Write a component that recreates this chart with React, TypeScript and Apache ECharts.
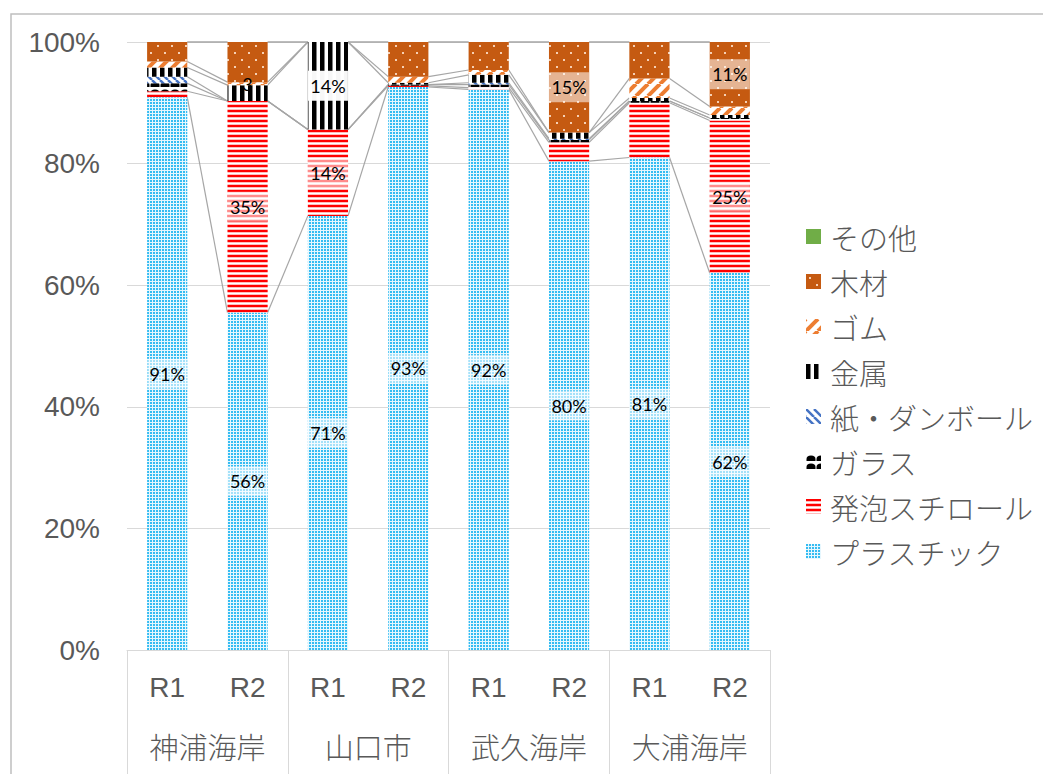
import React, { useEffect, useRef } from "react";
import * as echarts from "echarts";

const rounds = ["R1", "R2", "R1", "R2", "R1", "R2", "R1", "R2"];
const groups = ["神浦海岸", "山口市", "武久海岸", "大浦海岸"];
const seriesNames = ["プラスチック", "発泡スチロール", "ガラス", "紙・ダンボール", "金属", "ゴム", "木材", "その他"];

const plastic = [90.9, 55.5, 71.4, 92.6, 92.2, 80.4, 81.0, 62.0];
const foam = [1.0, 34.8, 14.2, 0.2, 0.3, 3.1, 9.0, 25.1];
const glass = [1.3, 0.0, 0.0, 0.2, 0.5, 0.4, 0.3, 0.4];
const paper = [1.1, 0.0, 0.0, 0.0, 0.3, 0.2, 0.0, 0.0];
const metal = [1.5, 2.6, 14.4, 0.3, 1.3, 1.0, 0.5, 0.5];
const rubber = [1.0, 0.5, 0.0, 1.0, 0.8, 0.0, 3.2, 1.4];
const wood = [3.2, 6.6, 0.0, 5.7, 4.6, 14.9, 6.0, 10.6];
const other = [0, 0, 0, 0, 0, 0, 0, 0];

// which segments carry a data label
const plasticShow = [1, 1, 1, 1, 1, 1, 1, 1];
const foamShow = [0, 1, 1, 0, 0, 0, 0, 1];
const metalShow = [0, 1, 1, 0, 0, 0, 0, 0];
const woodShow = [0, 0, 0, 0, 0, 1, 0, 1];
const noShow = [0, 0, 0, 0, 0, 0, 0, 0];
// truncated label seen in the chart (神浦海岸 R2 金属)
const metalLabelOverride: (string | null)[] = [null, "3", null, null, null, null, null, null];

const allValues = [plastic, foam, glass, paper, metal, rubber, wood, other];
const allShow = [plasticShow, foamShow, noShow, noShow, metalShow, noShow, woodShow, noShow];

function pat(w: number, h: number, draw: (ctx: CanvasRenderingContext2D) => void) {
  const c = document.createElement("canvas");
  c.width = w;
  c.height = h;
  const ctx = c.getContext("2d")!;
  draw(ctx);
  return { image: c, repeat: "repeat" } as any;
}

function makePatterns() {
  const plasticP = pat(3, 3, (ctx) => {
    ctx.fillStyle = "#E6F7FE";
    ctx.fillRect(0, 0, 3, 3);
    ctx.fillStyle = "#35BCF2";
    ctx.fillRect(0, 0, 2, 2);
  });
  const foamP = pat(4, 5, (ctx) => {
    ctx.fillStyle = "#FFFFFF";
    ctx.fillRect(0, 0, 4, 5);
    ctx.fillStyle = "#FF0000";
    ctx.fillRect(0, 0, 4, 2);
    ctx.fillStyle = "#FFBDBD";
    ctx.fillRect(0, 2, 4, 1);
    ctx.fillRect(0, 4, 4, 1);
  });
  const glassP = pat(10, 8, (ctx) => {
    ctx.fillStyle = "#FFFFFF";
    ctx.fillRect(0, 0, 10, 8);
    ctx.fillStyle = "#000000";
    ctx.beginPath();
    ctx.ellipse(5, 5, 4.5, 3.5, 0, Math.PI, 2 * Math.PI);
    ctx.fill();
    ctx.fillRect(0.5, 5, 9, 2);
  });
  const paperP = pat(8, 8, (ctx) => {
    ctx.fillStyle = "#FFFFFF";
    ctx.fillRect(0, 0, 8, 8);
    ctx.strokeStyle = "#4472C4";
    ctx.lineWidth = 2.5;
    for (const x of [-8, 0, 8]) {
      ctx.beginPath();
      ctx.moveTo(x, 0);
      ctx.lineTo(x + 8, 8);
      ctx.stroke();
    }
  });
  const metalP = pat(8, 4, (ctx) => {
    ctx.fillStyle = "#FFFFFF";
    ctx.fillRect(0, 0, 8, 4);
    ctx.fillStyle = "#000000";
    ctx.fillRect(0, 0, 4.5, 4);
  });
  const rubberP = pat(12, 12, (ctx) => {
    ctx.fillStyle = "#FFFFFF";
    ctx.fillRect(0, 0, 12, 12);
    ctx.strokeStyle = "#ED7D31";
    ctx.lineWidth = 4;
    for (const x of [-12, 0, 12]) {
      ctx.beginPath();
      ctx.moveTo(x, 12);
      ctx.lineTo(x + 12, 0);
      ctx.stroke();
    }
  });
  const woodP = pat(14, 14, (ctx) => {
    ctx.fillStyle = "#C55A11";
    ctx.fillRect(0, 0, 14, 14);
    ctx.fillStyle = "#F6D0B4";
    ctx.fillRect(3, 3, 2, 2);
    ctx.fillRect(10, 10, 2, 2);
  });
  return [plasticP, foamP, glassP, paperP, metalP, rubberP, woodP, "#70AD47"];
}

export default function App() {
  const ref = useRef<HTMLDivElement>(null);

  useEffect(() => {
    document.body.style.margin = "0";
    if (!ref.current) return;
    const chart = echarts.init(ref.current, undefined, { renderer: "svg" });
    const patterns = makePatterns();

    // cumulative tops for series lines
    const cum: number[][] = [];
    allValues.forEach((vals, k) => {
      cum.push(vals.map((v, i) => (k === 0 ? v : cum[k - 1][i] + v)));
    });
    const lineData: number[][] = [];
    cum.forEach((c) => {
      for (let i = 0; i < c.length - 1; i++) lineData.push([i, c[i], c[i + 1]]);
    });

    const barSeries = allValues.map((vals, k) => ({
      name: seriesNames[k],
      type: "bar",
      stack: "total",
      barWidth: "50%",
      z: 3,
      itemStyle: { color: patterns[k] },
      data: vals.map((v, i) => {
        const show = allShow[k][i] === 1;
        if (!show) return { value: v, label: { show: false } };
        const override = k === 4 ? metalLabelOverride[i] : null;
        const text = override !== null ? override : Math.round(v) + "%";
        return {
          value: v,
          label: {
            show: true,
            position: "inside",
            formatter: text,
            fontSize: 18,
            fontFamily: "Lato",
            color: "#000000",
            lineHeight: 22,
            width: 40,
            align: "center",
            padding: override !== null ? [0, 0] : [4, 0],
            offset: override !== null ? [0, -9] : [0, 0],
            backgroundColor:
              override !== null
                ? "transparent"
                : k === 4
                ? "rgba(255,255,255,0.97)"
                : "rgba(255,255,255,0.55)",
          },
        };
      }),
    }));

    const option: any = {
      animation: false,
      graphic: [
        {
          type: "rect",
          silent: true,
          z: -10,
          shape: { x: 11, y: 14, width: 1200, height: 1000 },
          style: { fill: "none", stroke: "#BFBFBF", lineWidth: 1.5 },
        },
      ],
      grid: { left: 127, right: 273, top: 42, bottom: 124 },
      legend: {
        orient: "vertical",
        left: 806,
        top: 222,
        padding: 0,
        itemWidth: 15,
        itemHeight: 15,
        itemGap: 16,
        icon: "rect",
        selectedMode: false,
        data: seriesNames.slice().reverse(),
        textStyle: {
          fontSize: 29,
          lineHeight: 28,
          color: "#595959",
          fontFamily: "Noto Sans CJK JP",
          fontWeight: 300,
          padding: [0, 0, 0, 4],
        },
      },
      xAxis: [
        {
          type: "category",
          data: rounds,
          axisLine: { show: true, lineStyle: { color: "#D9D9D9", width: 1 } },
          axisTick: { show: false },
          axisLabel: {
            interval: 0,
            margin: 23,
            fontSize: 28,
            color: "#595959",
            fontFamily: "Liberation Sans",
          },
        },
        {
          type: "category",
          data: groups,
          position: "bottom",
          axisLine: { show: false },
          axisTick: { show: true, length: 140, lineStyle: { color: "#D9D9D9", width: 1 } },
          axisLabel: {
            interval: 0,
            margin: 81,
            fontSize: 29,
            color: "#595959",
            fontFamily: "Noto Sans CJK JP",
            fontWeight: 300,
          },
          splitLine: { show: false },
        },
      ],
      yAxis: {
        type: "value",
        min: 0,
        max: 100,
        interval: 20,
        axisLine: { show: false },
        axisTick: { show: false },
        splitLine: { lineStyle: { color: "#D9D9D9", width: 1 } },
        axisLabel: {
          formatter: "{value}%",
          margin: 27,
          fontSize: 28,
          color: "#595959",
          fontFamily: "Liberation Sans",
        },
      },
      series: [
        ...barSeries,
        {
          type: "custom",
          silent: true,
          z: 1,
          clip: false,
          encode: { x: 0, y: 1 },
          data: lineData,
          renderItem: (params: any, api: any) => {
            const i = api.value(0);
            const a = api.coord([i, api.value(1)]);
            const b = api.coord([i + 1, api.value(2)]);
            const hw = api.size([1, 0])[0] * 0.25;
            return {
              type: "line",
              shape: { x1: a[0] + hw, y1: a[1], x2: b[0] - hw, y2: b[1] },
              style: { stroke: "#A6A6A6", lineWidth: 1.2 },
            };
          },
        },
      ],
    };

    chart.setOption(option);
    return () => chart.dispose();
  }, []);

  return <div ref={ref} style={{ width: 1043, height: 774 }} />;
}
